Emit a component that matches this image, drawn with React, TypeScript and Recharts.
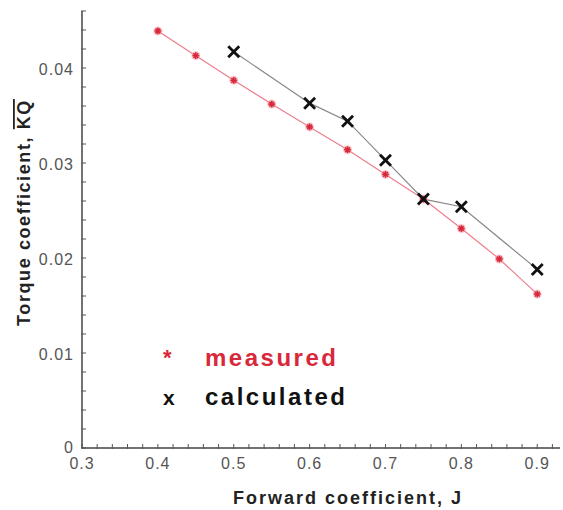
import React from 'react';
import { LineChart, Line, XAxis, YAxis } from 'recharts';

const measuredJ = [0.4, 0.45, 0.5, 0.55, 0.6, 0.65, 0.7, 0.75, 0.8, 0.85, 0.9];
const measuredKq = [0.0439, 0.0413, 0.0387, 0.0362, 0.0338, 0.0314, 0.0288, 0.0262, 0.0231, 0.0199, 0.0162];

const calculatedJ = [0.5, 0.6, 0.65, 0.7, 0.75, 0.8, 0.9];
const calculatedKq = [0.0417, 0.0363, 0.0344, 0.0303, 0.0262, 0.0254, 0.0188];

const xTicks = [0.3, 0.32, 0.34, 0.36, 0.38, 0.4, 0.42, 0.44, 0.46, 0.48, 0.5, 0.52, 0.54, 0.56, 0.58, 0.6, 0.62, 0.64, 0.66, 0.68, 0.7, 0.72, 0.74, 0.76, 0.78, 0.8, 0.82, 0.84, 0.86, 0.88, 0.9, 0.92];
const xLabels = [0.3, 0.4, 0.5, 0.6, 0.7, 0.8, 0.9];
const yTicks = [0, 0.002, 0.004, 0.006, 0.008, 0.01, 0.012, 0.014, 0.016, 0.018, 0.02, 0.022, 0.024, 0.026, 0.028, 0.03, 0.032, 0.034, 0.036, 0.038, 0.04, 0.042, 0.044, 0.046];
const yLabels = [0, 0.01, 0.02, 0.03, 0.04];

const seriesNames = ['measured', 'calculated'];

const measured = measuredJ.map((j, i) => ({ J: j, Kq: measuredKq[i] }));
const calculated = calculatedJ.map((j, i) => ({ J: j, Kq: calculatedKq[i] }));

const FONT = 'Arial, "Liberation Sans", sans-serif';
const isLabel = (v: number, list: number[]) => list.some(l => Math.abs(l - v) < 1e-9);

const XTick = (props: any) => {
  const { x, y, payload } = props;
  const v = payload.value;
  return (
    <g>
      <line x1={x} x2={x} y1={y - 4} y2={y + 1} stroke="#555" strokeWidth={1} />
      {isLabel(v, xLabels) && (
        <text x={x} y={y + 21} textAnchor="middle" fill="#555" fontSize={16} letterSpacing={1} fontFamily={FONT}>
          {String(v)}
        </text>
      )}
    </g>
  );
};

const YTick = (props: any) => {
  const { x, y, payload } = props;
  const v = payload.value;
  return (
    <g>
      <line x1={x - 1} x2={x + 4} y1={y} y2={y} stroke="#555" strokeWidth={1} />
      {isLabel(v, yLabels) && (
        <text x={x - 8} y={v === 0 ? y - 1 : y + 1} textAnchor="end" dominantBaseline="central" fill="#555" fontSize={16} letterSpacing={1} fontFamily={FONT}>
          {String(v)}
        </text>
      )}
    </g>
  );
};

const Star = (props: any) => {
  const { cx, cy } = props;
  if (cx == null || cy == null) return null;
  const r = 3.4;
  return (
    <g stroke="#d8283a" strokeWidth={1.6}>
      <circle cx={cx} cy={cy} r={4.5} fill="#f4a0aa" stroke="none" opacity={0.6} />
      <line x1={cx - r} x2={cx + r} y1={cy} y2={cy} />
      <line x1={cx} x2={cx} y1={cy - r} y2={cy + r} />
      <line x1={cx - r * 0.7} x2={cx + r * 0.7} y1={cy - r * 0.7} y2={cy + r * 0.7} />
      <line x1={cx - r * 0.7} x2={cx + r * 0.7} y1={cy + r * 0.7} y2={cy - r * 0.7} />
    </g>
  );
};

const Cross = (props: any) => {
  const { cx, cy } = props;
  if (cx == null || cy == null) return null;
  const r = 4.5;
  return (
    <g stroke="#111" strokeWidth={2.8} strokeLinecap="square">
      <line x1={cx - r} x2={cx + r} y1={cy - r} y2={cy + r} />
      <line x1={cx - r} x2={cx + r} y1={cy + r} y2={cy - r} />
    </g>
  );
};

const LegendBox = () => (
  <div
    style={{
      position: 'absolute',
      left: 163,
      top: 338,
      fontFamily: FONT,
      fontWeight: 'bold',
      fontSize: 24,
      letterSpacing: 2.5,
      lineHeight: '39px',
      pointerEvents: 'none',
    }}
  >
    <div style={{ color: '#d8283a' }}>
      <span style={{ display: 'inline-block', width: 42, fontSize: 22, verticalAlign: 'top' }}>*</span>
      {seriesNames[0]}
    </div>
    <div style={{ color: '#111' }}>
      <span style={{ display: 'inline-block', width: 42, fontSize: 21 }}>x</span>
      {seriesNames[1]}
    </div>
  </div>
);

export default function App() {
  return (
    <div style={{ position: 'absolute', left: 0, top: 0, width: 563, height: 510, background: '#fff' }}>
      <LineChart width={563} height={510} margin={{ top: 11, right: 3, left: 0, bottom: 0 }}>
        <XAxis
          type="number"
          dataKey="J"
          domain={[0.3, 0.93]}
          ticks={xTicks}
          interval={0}
          tick={<XTick />}
          tickLine={false}
          tickSize={0}
          tickMargin={0}
          height={62}
          allowDataOverflow
          axisLine={{ stroke: '#444', strokeWidth: 1.5 }}
          label={{
            value: 'Forward coefficient,  J',
            position: 'insideBottom',
            offset: 6,
            fill: '#222',
            fontSize: 18,
            fontWeight: 'bold',
            letterSpacing: 2,
            fontFamily: FONT,
            dx: 27,
          }}
        />
        <YAxis
          type="number"
          dataKey="Kq"
          domain={[0, 0.046]}
          ticks={yTicks}
          interval={0}
          tick={<YTick />}
          tickLine={false}
          tickSize={0}
          tickMargin={0}
          width={82}
          allowDataOverflow
          axisLine={{ stroke: '#444', strokeWidth: 1.5 }}
          label={(p: any) => {
            const vb = p.viewBox;
            const cx = 24;
            const cy = vb.y + vb.height / 2 - 17;
            return (
              <text
                x={cx}
                y={cy}
                transform={`rotate(-90 ${cx} ${cy})`}
                textAnchor="middle"
                dominantBaseline="central"
                fill="#222"
                fontSize={18}
                fontWeight="bold"
                letterSpacing={1.6}
                fontFamily={FONT}
              >
                Torque coefficient,{'  '}
                <tspan style={{ textDecoration: 'overline' }}>KQ</tspan>
              </text>
            );
          }}
        />
        <Line
          name={seriesNames[0]}
          data={measured}
          dataKey="Kq"
          stroke="#ee7d8c"
          strokeWidth={1.2}
          dot={<Star />}
          activeDot={false}
          isAnimationActive={false}
        />
        <Line
          name={seriesNames[1]}
          data={calculated}
          dataKey="Kq"
          stroke="#888"
          strokeWidth={1.2}
          dot={<Cross />}
          activeDot={false}
          isAnimationActive={false}
        />
      </LineChart>
      <LegendBox />
    </div>
  );
}
